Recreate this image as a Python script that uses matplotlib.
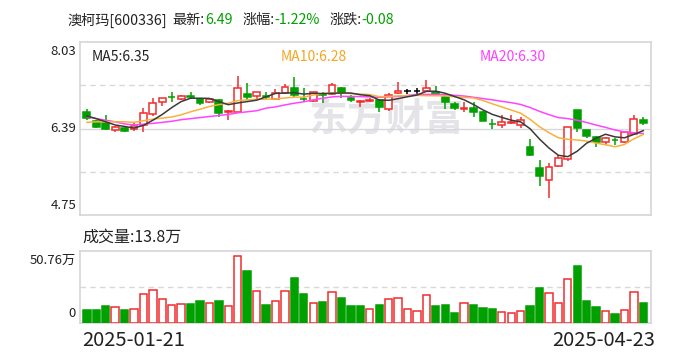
import numpy as np
import matplotlib
matplotlib.use("Agg")
import matplotlib.pyplot as plt
from matplotlib.transforms import blended_transform_factory, offset_copy

plt.rcParams['font.family'] = ['Noto Sans CJK SC', 'DejaVu Sans']

# ---------------- data ----------------
stock_name = "澳柯玛"
stock_code = "600336"
opens = [6.71, 6.54, 6.49, 6.37, 6.41, 6.39, 6.46, 6.67, 6.89, 7.00,
         6.95, 7.01, 6.95, 6.90, 6.94, 6.70, 6.71, 7.05, 7.01, 7.01,
         6.95, 7.06, 7.16, 6.96, 6.92, 7.04, 7.05, 7.16, 6.97, 6.89,
         6.92, 6.94, 6.76, 7.06, 7.10, 7.10, 7.11, 7.09, 6.99, 6.86,
         6.76, 6.79, 6.71, 6.48, 6.46, 6.50, 6.46, 6.04, 5.64, 5.41,
         5.68, 5.81, 6.75, 6.37, 6.23, 6.13, 6.18, 6.13, 6.29, 6.55]
highs = [6.76, 6.56, 6.65, 6.44, 6.44, 6.49, 6.79, 6.97, 6.97, 7.08,
         7.03, 7.08, 6.97, 6.97, 6.95, 6.75, 7.39, 7.25, 7.08, 7.08,
         7.14, 7.24, 7.37, 7.16, 7.09, 7.08, 7.25, 7.19, 7.03, 6.93,
         6.97, 6.94, 7.06, 7.28, 7.14, 7.16, 7.32, 7.20, 7.03, 6.90,
         6.89, 6.89, 6.72, 6.57, 6.64, 6.64, 6.62, 6.19, 5.80, 5.74,
         5.89, 6.42, 6.75, 6.37, 6.25, 6.23, 6.21, 6.33, 6.65, 6.61]
lows = [6.56, 6.40, 6.37, 6.32, 6.32, 6.35, 6.32, 6.63, 6.82, 6.89,
        6.94, 6.95, 6.84, 6.87, 6.62, 6.56, 6.68, 6.94, 6.94, 6.95,
        6.94, 7.05, 7.00, 6.90, 6.90, 6.87, 7.03, 6.97, 6.90, 6.80,
        6.90, 6.71, 6.73, 7.04, 7.05, 7.03, 7.09, 7.03, 6.76, 6.75,
        6.71, 6.62, 6.53, 6.39, 6.41, 6.48, 6.41, 5.88, 5.30, 5.08,
        5.67, 5.78, 6.32, 6.21, 6.04, 6.08, 6.08, 6.11, 6.29, 6.46]
closes = [6.59, 6.43, 6.38, 6.42, 6.34, 6.44, 6.68, 6.87, 6.97, 6.99,
          7.01, 7.00, 6.87, 6.95, 6.68, 6.73, 7.16, 7.00, 7.08, 7.00,
          7.06, 7.19, 7.03, 6.95, 7.08, 7.03, 7.22, 7.06, 6.94, 6.92,
          6.94, 6.81, 7.03, 7.10, 7.10, 7.10, 7.16, 7.05, 6.90, 6.79,
          6.79, 6.71, 6.54, 6.47, 6.51, 6.52, 6.55, 5.89, 5.49, 5.66,
          5.83, 6.42, 6.41, 6.25, 6.13, 6.21, 6.17, 6.32, 6.57, 6.49]
volumes = [9.0, 9.0, 11.8, 10.9, 9.0, 9.7, 20.1, 22.9, 16.6, 12.3,
           13.0, 13.2, 15.4, 13.7, 15.4, 11.6, 47.2, 36.6, 22.2, 12.5,
           15.2, 22.2, 31.6, 20.3, 13.7, 14.7, 21.5, 17.5, 11.8, 11.8,
           9.5, 12.5, 16.8, 17.5, 9.7, 8.3, 19.6, 11.8, 12.5, 6.9,
           13.7, 12.5, 10.4, 9.7, 7.6, 6.7, 8.3, 11.8, 24.8, 20.8,
           13.7, 30.9, 40.4, 15.4, 11.1, 8.3, 6.2, 9.0, 21.7, 13.8]
# moving-average values before enough candles exist in the window
ma5_head = [6.63, 6.58, 6.52, 6.46]
ma10_head = [6.51, 6.52, 6.52, 6.52, 6.52, 6.51, 6.54, 6.57, 6.59]
ma20_head = [6.62, 6.58, 6.55, 6.52, 6.48, 6.46, 6.475, 6.49, 6.51, 6.53,
             6.56, 6.58, 6.60, 6.62, 6.64, 6.66, 6.69, 6.71, 6.73]
price_ticks = [4.75, 6.39, 8.03]
volume_ticks = [0, 50.76]
date_labels = ["2025-01-21", "2025-04-23"]

# ---------------- derived ----------------
O = np.array(opens); H = np.array(highs); L = np.array(lows); C = np.array(closes)
V = np.array(volumes)
n = len(C)
x = np.arange(n)

def ma(period, head):
    out = list(head)
    for i in range(len(head), n):
        out.append(C[i - period + 1:i + 1].mean())
    return np.array(out)

ma5 = ma(5, ma5_head)
ma10 = ma(10, ma10_head)
ma20 = ma(20, ma20_head)

RED = '#f02c2c'
GREEN = '#00a000'
BLACK = '#000000'
GRID = '#d8d8dc'
BORDER = '#d4d4da'
TXT = '#222222'

cand_col = np.where(C > O, RED, np.where(C < O, GREEN, BLACK))
cand_face = np.where(C > O, '#ffffff', cand_col)
prev = np.concatenate([[O[0]], C[:-1]])
vol_col = np.where(C >= prev, RED, GREEN)
vol_face = np.where(C >= prev, '#ffffff', GREEN)

W, Hh = 688, 360
fig = plt.figure(figsize=(W / 100, Hh / 100), dpi=100)
fig.patch.set_facecolor('white')

left_px, right_px = 79.5, 651
ax = fig.add_axes([left_px / W, (Hh - 215) / Hh, (right_px - left_px) / W, 172.7 / Hh])
axv = fig.add_axes([left_px / W, (Hh - 322.7) / Hh, (right_px - left_px) / W, 71.7 / Hh])

for a in (ax, axv):
    for s in a.spines.values():
        s.set_color(BORDER)
        s.set_linewidth(1.2)
    a.set_xticks([]); a.set_yticks([])
    a.set_xlim(-0.78, n - 1 + 0.82)

# price panel
ax.set_ylim(price_ticks[0], price_ticks[-1])
step = (price_ticks[-1] - price_ticks[0]) / 4
for k in (1, 3):
    ax.axhline(price_ticks[0] + k * step, color=GRID, lw=1, ls=(0, (4, 3)), zorder=0.6)
ax.axhline(price_ticks[1], color=GRID, lw=1, zorder=0.6)

ax.text(386 / W, 1 - 120 / Hh, "东方财富", transform=fig.transFigure, ha='center', va='center',
        fontsize=28, fontweight='bold', color='#e4e4e8', zorder=0.5)

body_b = np.minimum(O, C)
body_h = np.maximum(np.abs(C - O), 0.004)
ax.vlines(x, L, H, colors=cand_col, lw=1.1, zorder=2)
ax.bar(x, body_h, bottom=body_b, width=0.72, facecolor=cand_face, edgecolor=cand_col,
       linewidth=1.1, zorder=3)

ax.plot(x, ma20, color='#ff44ff', lw=1.1, zorder=4)
ax.plot(x, ma10, color='#f7b23b', lw=1.1, zorder=4)
ax.plot(x, ma5, color='#3a3a3a', lw=1.1, zorder=4)

# price tick labels
tr = blended_transform_factory(ax.transAxes, ax.transData)
for i, t in enumerate(price_ticks):
    va = 'bottom' if i == 0 else ('top' if i == len(price_ticks) - 1 else 'center')
    dy = 3 if i == 0 else (-3 if i == len(price_ticks) - 1 else 0)
    ax.text(-0.006, t, f"{t:.2f}", transform=offset_copy(tr, fig=fig, x=0, y=dy, units='dots'),
            ha='right', va=va, fontsize=9.5, color=TXT)

# MA legend texts
fig.text(92 / W, 1 - 57 / Hh, f"MA5:{ma5[-1]:.2f}", color=TXT, fontsize=10, va='center')
fig.text(281 / W, 1 - 57 / Hh, f"MA10:{ma10[-1]:.2f}", color='#f5a623', fontsize=10, va='center')
fig.text(480 / W, 1 - 57 / Hh, f"MA20:{ma20[-1]:.2f}", color='#ff40ff', fontsize=10, va='center')

# volume panel
axv.set_ylim(volume_ticks[0], volume_ticks[-1])
axv.axhline(volume_ticks[-1] / 2, color=GRID, lw=1, ls=(0, (4, 3)), zorder=0.6)
axv.bar(x, V, width=0.78, facecolor=vol_face, edgecolor=vol_col, linewidth=1.1, zorder=3)
trv = blended_transform_factory(axv.transAxes, axv.transData)
axv.text(-0.006, volume_ticks[-1], f"{volume_ticks[-1]:.2f}万",
         transform=offset_copy(trv, fig=fig, x=0, y=-3, units='dots'),
         ha='right', va='top', fontsize=9.5, color=TXT)
axv.text(-0.006, volume_ticks[0], f"{volume_ticks[0]}",
         transform=offset_copy(trv, fig=fig, x=0, y=3, units='dots'),
         ha='right', va='bottom', fontsize=9.5, color=TXT)

fig.text(82 / W, 1 - 237 / Hh, f"成交量:{V[-1]:.1f}万", fontsize=11.5, va='center', color=TXT)

# dates
fig.text(82 / W, 1 - 341 / Hh, date_labels[0], fontsize=14.5, va='center', ha='left', color=TXT)
fig.text(655 / W, 1 - 341 / Hh, date_labels[-1], fontsize=14.5, va='center', ha='right', color=TXT)

# header
last = C[-1]
chg = C[-1] - C[-2]
pct = chg / C[-2] * 100
pieces = [(f"{stock_name}[{stock_code}]", TXT, 6),
          ("最新:", TXT, 0), (f"{last:.2f}", GREEN, 10),
          ("涨幅:", TXT, 0), (f"{pct:.2f}%", GREEN, 10),
          ("涨跌:", TXT, 0), (f"{chg:.2f}", GREEN, 0)]
renderer = fig.canvas.get_renderer()
xpos = 67
for txt, col, gap in pieces:
    t = fig.text(xpos / W, 1 - 20 / Hh, txt, color=col, fontsize=10.2, va='center', ha='left')
    bb = t.get_window_extent(renderer=renderer)
    xpos = bb.x1 + gap

fig.savefig("out.png", dpi=100, facecolor='white')
